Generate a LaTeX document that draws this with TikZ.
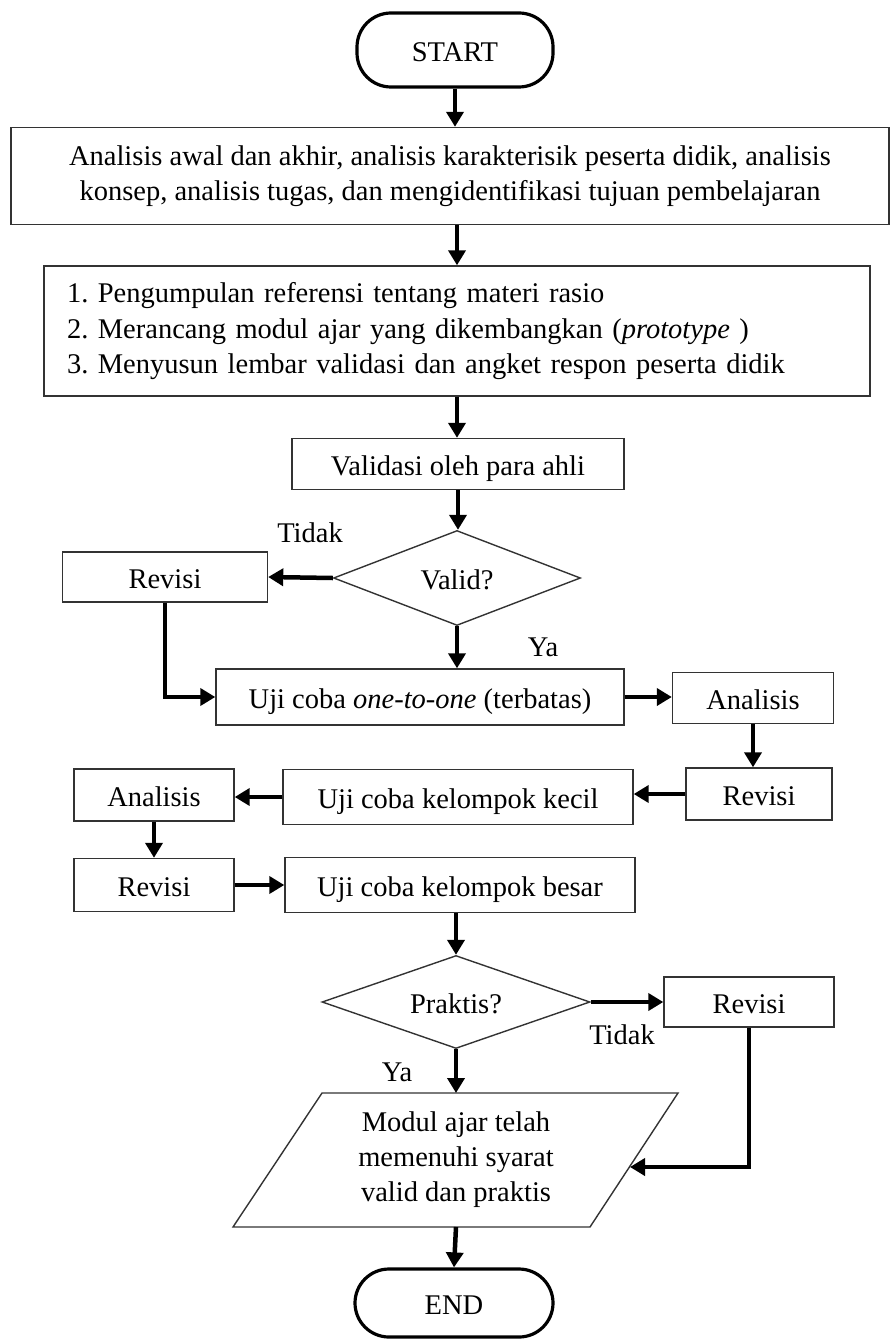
\documentclass[tikz,border=0pt]{standalone}
\usepackage{fontspec}
\setmainfont{Liberation Serif}
\usetikzlibrary{arrows.meta,shapes.geometric}
\begin{document}
\frenchspacing
\begin{tikzpicture}[x=1pt,y=-1pt,
  every node/.style={font=\fontsize{28.5}{35}\selectfont},
  box/.style={draw=black!80, line width=1.4pt, rectangle, inner sep=0pt, align=center},
  one/.style={text height=28pt, text depth=5pt},
  term/.style={draw=black, line width=3.2pt, rectangle, rounded corners=34pt, inner sep=0pt, text height=28pt, text depth=5pt},
  dec/.style={draw=black!80, line width=1.4pt, diamond, shape aspect=2.6, inner sep=0pt, text height=28pt, text depth=5pt},
  arr/.style={line width=4.5pt, draw=black, -{Triangle[length=15pt,width=17pt]}},
  lbl/.style={inner sep=0pt}]
\useasboundingbox (0,0) rectangle (891,1340);

\node[term, minimum width=196pt, minimum height=74pt] (start) at (455,50) {START};
\node[box, minimum width=878pt, minimum height=97pt] (b1) at (450,176)
  {Analisis awal dan akhir, analisis karakterisik peserta didik, analisis\\
   konsep, analisis tugas, dan mengidentifikasi tujuan pembelajaran};
\node[box, minimum width=826pt, minimum height=130pt, text width=780pt, inner xsep=23pt, align=left] (b2) at (457,331)
  {\fontsize{28.5}{36}\selectfont 1. Pengumpulan referensi tentang materi rasio\\
   2. Merancang modul ajar yang dikembangkan (\textit{prototype} )\\
   3. Menyusun lembar validasi dan angket respon peserta didik};
\node[box, one, minimum width=332pt, minimum height=51pt] (val) at (458,464) {Validasi oleh para ahli};
\node[dec, minimum width=247pt, minimum height=95pt] (dv) at (457,578) {Valid?};
\node[box, one, minimum width=205pt, minimum height=50pt] (rev1) at (165,577) {Revisi};
\node[box, one, minimum width=408pt, minimum height=56pt] (uji1) at (420,697) {Uji coba \textit{one-to-one} (terbatas)};
\node[box, one, minimum width=161pt, minimum height=51pt] (an1) at (753,698) {Analisis};
\node[box, one, minimum width=146pt, minimum height=52pt] (rev2) at (759,794) {Revisi};
\node[box, one, minimum width=350pt, minimum height=55pt] (kecil) at (458,797) {Uji coba kelompok kecil};
\node[box, one, minimum width=160pt, minimum height=52pt] (an2) at (154,795) {Analisis};
\node[box, one, minimum width=160pt, minimum height=53pt] (rev3) at (154,885) {Revisi};
\node[box, one, minimum width=350pt, minimum height=55pt] (besar) at (460,885) {Uji coba kelompok besar};
\node[dec, minimum width=268pt, minimum height=93pt] (dp) at (456,1002) {Praktis?};
\node[box, one, minimum width=170pt, minimum height=50pt] (rev4) at (749,1002) {Revisi};

\draw[draw=black!80, line width=1.4pt] (322,1093) -- (678,1093) -- (590,1227) -- (233,1227) -- cycle;
\node[align=center, inner sep=0pt] (par) at (456,1160) {\fontsize{28.5}{36}\selectfont Modul ajar telah\\memenuhi syarat\\valid dan praktis};
\coordinate (parT) at (456,1093);
\coordinate (parB) at (456,1227);
\coordinate (parR) at (630,1167);

\node[term, minimum width=198pt, minimum height=68pt] (endn) at (454,1303) {END};

\node[lbl] (t1) at (310,533) {Tidak};
\node[lbl] (y1) at (543,647) {Ya};
\node[lbl] (t2) at (622,1035) {Tidak};
\node[lbl] (y2) at (397,1072) {Ya};

\draw[arr] (start.south) -- (start.south |- b1.north);
\draw[arr] (b2.north |- b1.south) -- (b2.north);
\draw[arr] (b2.south) -- (b2.south |- val.north);
\draw[arr] (val.south) -- (val.south |- dv.north);
\draw[arr] (dv.west) -- (rev1.east);
\draw[arr] (rev1.south) |- (uji1.west);
\draw[arr] (dv.south) -- (dv.south |- uji1.north);
\draw[arr] (uji1.east) -- (uji1.east -| an1.west);
\draw[arr] (an1.south) -- (an1.south |- rev2.north);
\draw[arr] (rev2.west) -- (rev2.west -| kecil.east);
\draw[arr] (kecil.west) -- (kecil.west -| an2.east);
\draw[arr] (an2.south) -- (rev3.north);
\draw[arr] (rev3.east) -- (rev3.east -| besar.west);
\draw[arr] (dp.north |- besar.south) -- (dp.north);
\draw[arr] (dp.east) -- (dp.east -| rev4.west);
\draw[arr] (rev4.south) |- (parR);
\draw[arr] (dp.south) -- (parT);
\draw[arr] (parB) -- (endn.north);
\end{tikzpicture}
\end{document}
